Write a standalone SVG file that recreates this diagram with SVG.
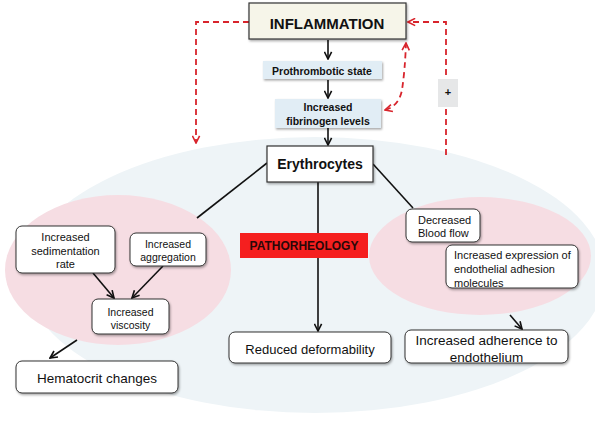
<svg xmlns="http://www.w3.org/2000/svg" width="595" height="421" viewBox="0 0 595 421">
<defs>
<filter id="sh" x="-10%" y="-10%" width="130%" height="140%">
<feDropShadow dx="1" dy="1.5" stdDeviation="1" flood-color="#000" flood-opacity="0.35"/>
</filter>
<marker id="ab" viewBox="0 0 10 10" refX="9" refY="5" markerWidth="9" markerHeight="9" markerUnits="userSpaceOnUse" orient="auto">
<path d="M1,1 L9,5 L1,9" fill="none" stroke="#111" stroke-width="1.8"/>
</marker>
<marker id="ar" viewBox="0 0 10 10" refX="9" refY="5" markerWidth="9" markerHeight="9" markerUnits="userSpaceOnUse" orient="auto-start-reverse">
<path d="M1,1 L9,5 L1,9" fill="none" stroke="#d8242c" stroke-width="1.8"/>
</marker>
</defs>
<style>
text{font-family:"Liberation Sans",Arial,sans-serif;fill:#111;text-anchor:middle;dominant-baseline:central}
.b{font-weight:bold}
.box{fill:#fff;stroke:#333;stroke-width:1}
.blue{fill:#e1edf5;stroke:none}
.ln{stroke:#111;stroke-width:1.6;fill:none}
.red{stroke:#d8242c;stroke-width:1.8;fill:none;stroke-dasharray:6,4}
.l{text-anchor:start}
</style>
<rect width="595" height="421" fill="#fff"/>
<g id="background">
<ellipse cx="315" cy="275" rx="290" ry="138" fill="#eef4f7"/>
<ellipse cx="118" cy="270" rx="113" ry="75" fill="#f6dde3"/>
<ellipse cx="480" cy="256" rx="111" ry="59" fill="#f6dde3"/>
</g>
<g id="connectors">
<line class="ln" x1="328" y1="40" x2="328" y2="59" marker-end="url(#ab)"/>
<line class="ln" x1="328" y1="80" x2="328" y2="98" marker-end="url(#ab)"/>
<line class="ln" x1="328" y1="128" x2="328" y2="145" marker-end="url(#ab)"/>
<line class="ln" x1="267" y1="163" x2="197" y2="218"/>
<line class="ln" x1="373" y1="164" x2="413" y2="208"/>
<line class="ln" x1="318" y1="182" x2="318" y2="331" marker-end="url(#ab)"/>
<line class="ln" x1="93" y1="273" x2="114" y2="298" marker-end="url(#ab)"/>
<line class="ln" x1="163" y1="266" x2="132" y2="298" marker-end="url(#ab)"/>
<line class="ln" x1="77" y1="340" x2="50" y2="358" marker-end="url(#ab)"/>
<line class="ln" x1="510" y1="315" x2="522" y2="329" marker-end="url(#ab)"/>
<path class="red" d="M249,22 H196 V143" marker-end="url(#ar)"/>
<path class="red" d="M446,155 V22 H408" marker-end="url(#ar)"/>
<path class="red" d="M385,110 Q399,106 402,90 Q405,70 406,43" marker-start="url(#ar)" marker-end="url(#ar)"/>
</g>
<g id="plus">
<rect x="438" y="79" width="20" height="28" fill="#e6e7e8"/>
<text x="448" y="92" class="b" font-size="11">+</text>
</g>
<g id="inflammation">
<rect x="249" y="3" width="157" height="36" fill="#f6f5e9" stroke="#333" stroke-width="1.2" filter="url(#sh)"/>
<text x="327" y="23" class="b" font-size="15">INFLAMMATION</text>
</g>
<g id="prothrombotic">
<rect x="263" y="61" width="119" height="18" class="blue" filter="url(#sh)"/>
<text x="322" y="71" class="b" font-size="10.5">Prothrombotic state</text>
</g>
<g id="fibrinogen">
<rect x="275" y="99" width="106" height="29" class="blue" filter="url(#sh)"/>
<text x="328" y="107" class="b" font-size="10.5">Increased</text>
<text x="328" y="121" class="b" font-size="10.5">fibrinogen levels</text>
</g>
<g id="erythrocytes">
<rect x="267" y="146" width="106" height="36" fill="#fff" stroke="#333" stroke-width="1.2" filter="url(#sh)"/>
<text x="320" y="164" class="b" font-size="14">Erythrocytes</text>
</g>
<g id="pathorheology">
<rect x="240" y="233" width="128" height="25" fill="#f51f1f"/>
<text x="304" y="246" class="b" font-size="12" style="fill:#2a0808">PATHORHEOLOGY</text>
</g>
<g id="sedimentation">
<rect x="16" y="226" width="99" height="47" rx="6" class="box" filter="url(#sh)"/>
<text x="65.5" y="237" font-size="11">Increased</text>
<text x="65.5" y="250.5" font-size="11">sedimentation</text>
<text x="65.5" y="264" font-size="11">rate</text>
</g>
<g id="aggregation">
<rect x="130" y="233" width="76" height="33" rx="6" class="box" filter="url(#sh)"/>
<text x="168" y="244" font-size="10.5">Increased</text>
<text x="168" y="257" font-size="10.5">aggregation</text>
</g>
<g id="viscosity">
<rect x="92" y="299" width="77" height="35" rx="6" class="box" filter="url(#sh)"/>
<text x="130.5" y="312" font-size="10.5">Increased</text>
<text x="130.5" y="325" font-size="10.5">viscosity</text>
</g>
<g id="hematocrit">
<rect x="16" y="361" width="162" height="32" rx="6" class="box" filter="url(#sh)"/>
<text x="97" y="378" font-size="13.5">Hematocrit changes</text>
</g>
<g id="deformability">
<rect x="229" y="332" width="162" height="31" rx="6" class="box" filter="url(#sh)"/>
<text x="310" y="349" font-size="13">Reduced deformability</text>
</g>
<g id="bloodflow">
<rect x="406" y="209" width="74" height="33" rx="6" class="box" filter="url(#sh)"/>
<text x="418" y="220" class="l" font-size="11">Decreased</text>
<text x="418" y="233" class="l" font-size="11">Blood flow</text>
</g>
<g id="expression">
<rect x="446" y="245" width="132" height="43" rx="6" class="box" filter="url(#sh)"/>
<text x="454" y="255" class="l" font-size="11">Increased expression of</text>
<text x="454" y="269" class="l" font-size="11">endothelial adhesion</text>
<text x="454" y="283" class="l" font-size="11">molecules</text>
</g>
<g id="adherence">
<rect x="405" y="330" width="163" height="33" rx="6" class="box" filter="url(#sh)"/>
<text x="486.5" y="340" font-size="13.5">Increased adherence to</text>
<text x="486.5" y="357" font-size="13.5">endothelium</text>
</g>
</svg>
